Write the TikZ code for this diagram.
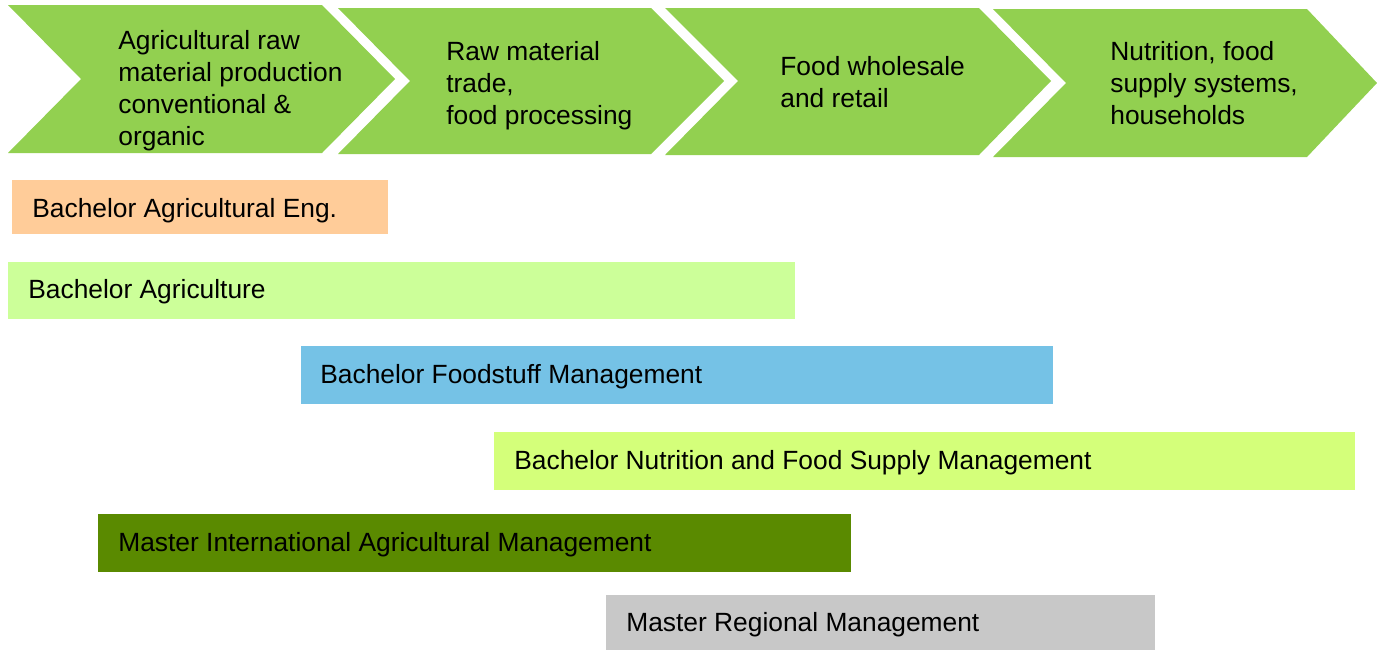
\documentclass[tikz,border=0pt]{standalone}
\usepackage{fontspec}
\setmainfont{Liberation Sans}
\definecolor{chevgreen}{HTML}{92D050}
\definecolor{peach}{HTML}{FFCC99}
\definecolor{palegreen}{HTML}{CCFF99}
\definecolor{skyblue}{HTML}{75C2E6}
\definecolor{limegreen}{HTML}{D4FF7A}
\definecolor{olivegreen}{HTML}{5A8A00}
\definecolor{lightgrey}{HTML}{C8C8C8}
\begin{document}
\begin{tikzpicture}[x=0.02cm, y=-0.02cm, font=\fontsize{15}{18.2}\selectfont,
		lbl/.style={anchor=west, inner sep=0pt, align=left}]
		\useasboundingbox (0,0) rectangle (1377,650);
		% value chain
		\fill[chevgreen] (8,5) -- (322,5) -- (395,79) -- (322,153) -- (8,153) -- (81,79) -- cycle;
		\fill[chevgreen] (338,8) -- (651,8) -- (724,81) -- (651,154) -- (338,154) -- (410,81) -- cycle;
		\fill[chevgreen] (665,8) -- (979,8) -- (1051,81) -- (979,155) -- (665,155) -- (738,81) -- cycle;
		\fill[chevgreen] (993,9) -- (1307,9) -- (1377,83) -- (1307,157) -- (993,157) -- (1066,83) -- cycle;
		\node[lbl] (prod) at (118,91) {Agricultural raw\\material production\\conventional \&\\organic};
		\node[lbl] (trade) at (446,86) {Raw material\\trade,\\food processing};
		\node[lbl] (retail) at (780,82) {Food wholesale\\and retail};
		\node[lbl] (house) at (1110,83) {Nutrition, food\\supply systems,\\households};
		% study programmes
		\fill[peach] (12,180) rectangle (388,234);
		\fill[palegreen] (8,262) rectangle (795,319);
		\fill[skyblue] (301,346) rectangle (1053,404);
		\fill[limegreen] (494,432) rectangle (1355,490);
		\fill[olivegreen] (98,514) rectangle (851,572);
		\fill[lightgrey] (606,595) rectangle (1155,650);
		\node[lbl] (agreng) at (32,211) {Bachelor Agricultural Eng.};
		\node[lbl] (agri) at (28,292) {Bachelor Agriculture};
		\node[lbl] (foodst) at (320,377) {Bachelor Foodstuff Management};
		\node[lbl] (nutri) at (514,463) {Bachelor Nutrition and Food Supply Management};
		\node[lbl] (intagr) at (118,545) {Master International Agricultural Management};
		\node[lbl] (region) at (626,625) {Master Regional Management};
	\end{tikzpicture}
\end{document}
